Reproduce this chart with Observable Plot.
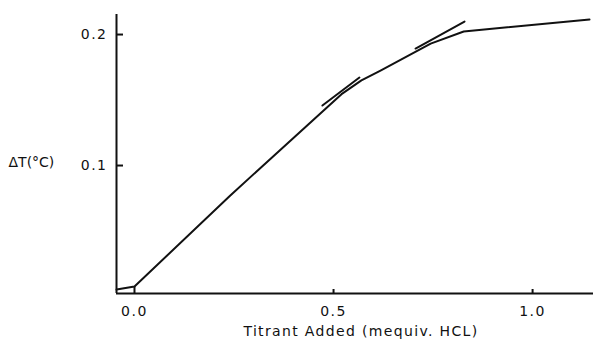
<!DOCTYPE html>
<html>
<head>
<meta charset="utf-8">
<script src="https://cdn.jsdelivr.net/npm/d3@7"></script>
<script src="https://cdn.jsdelivr.net/npm/@observablehq/plot@0.6"></script>
<style>
  html, body { margin: 0; padding: 0; background: #fff; }
  svg { font-family: "DejaVu Sans", sans-serif; }
</style>
</head>
<body>
<div id="chart"></div>
<script>
// Titration curve
const curveX = [-0.045, 0.0, 0.24, 0.52, 0.57, 0.618, 0.744, 0.827, 1.143];
const curveY = [0.0053, 0.0076, 0.0770, 0.1545, 0.165, 0.1725, 0.1931, 0.2023, 0.2115];

// Extrapolation (tangent) segments
const tan1X = [0.472, 0.565];
const tan1Y = [0.1458, 0.1672];
const tan2X = [0.706, 0.829];
const tan2Y = [0.1893, 0.2099];

// Start-of-titration marker
const startX = 0.0;
const startY = [0.0023, 0.0076];

const xTicks = [0.0, 0.5, 1.0];
const yTicks = [0.1, 0.2];
const xTickLabels = ["0.0", "0.5", "1.0"];
const yTickLabels = ["0.1", "0.2"];

const xLabel = "Titrant Added (mequiv. HCL)";
const yLabel = "\u0394T(\u00b0C)";

const xDomain = [-0.0452, 1.153];
const yDomain = [0.0023, 0.2153];

const curve = curveX.map((x, i) => ({x, y: curveY[i]}));
const tan1 = tan1X.map((x, i) => ({x, y: tan1Y[i]}));
const tan2 = tan2X.map((x, i) => ({x, y: tan2Y[i]}));

const chart = Plot.plot({
  width: 597,
  height: 345,
  marginLeft: 116,
  marginRight: 4,
  marginTop: 14,
  marginBottom: 52,
  style: {fontFamily: "DejaVu Sans, sans-serif", fontSize: "14px", color: "#111", background: "#fff"},
  x: {domain: xDomain, label: null},
  y: {domain: yDomain, label: null},
  marks: [
    // axis lines
    Plot.ruleX([xDomain[0]], {stroke: "#111", strokeWidth: 2}),
    Plot.ruleY([yDomain[0]], {stroke: "#111", strokeWidth: 2}),
    // inward ticks
    Plot.axisY({ticks: yTicks, tickSize: -7, tickFormat: () => "", label: null, strokeWidth: 2, stroke: "#111"}),
    Plot.axisX({ticks: xTicks.slice(1), tickSize: -4, tickFormat: () => "", label: null, strokeWidth: 2, stroke: "#111"}),
    // tick labels
    Plot.axisY({ticks: yTicks, tickSize: 0, tickPadding: 9, tickFormat: (d, i) => yTickLabels[i], fontSize: 14, label: null, fill: "#111"}),
    Plot.axisX({ticks: xTicks, tickSize: 0, tickPadding: 13, tickFormat: (d, i) => xTickLabels[i], fontSize: 14, label: null, fill: "#111"}),
    // start marker
    Plot.ruleX([startX], {y1: startY[0], y2: startY[1], stroke: "#111", strokeWidth: 2}),
    // curve and tangents
    Plot.line(curve, {x: "x", y: "y", stroke: "#111", strokeWidth: 2}),
    Plot.line(tan1, {x: "x", y: "y", stroke: "#111", strokeWidth: 2}),
    Plot.line(tan2, {x: "x", y: "y", stroke: "#111", strokeWidth: 2}),
    // axis labels
    Plot.text([yLabel], {frameAnchor: "left", dx: -108, dy: 9, textAnchor: "start", fontSize: 14, fill: "#111"}),
    Plot.text([xLabel], {frameAnchor: "bottom", dx: 6, dy: 42, fontSize: 14, fill: "#111", className: "xlab"})
  ]
});
document.getElementById("chart").appendChild(chart);
// wide letter spacing of the original typesetting
d3.select(chart).selectAll("text").filter(function() { return this.textContent === xLabel; })
  .style("letter-spacing", "1.35px");
d3.select(chart).selectAll("g[aria-label='x-axis tick label'] text, g[aria-label='y-axis tick label'] text")
  .style("letter-spacing", "1.5px");
</script>
</body>
</html>
